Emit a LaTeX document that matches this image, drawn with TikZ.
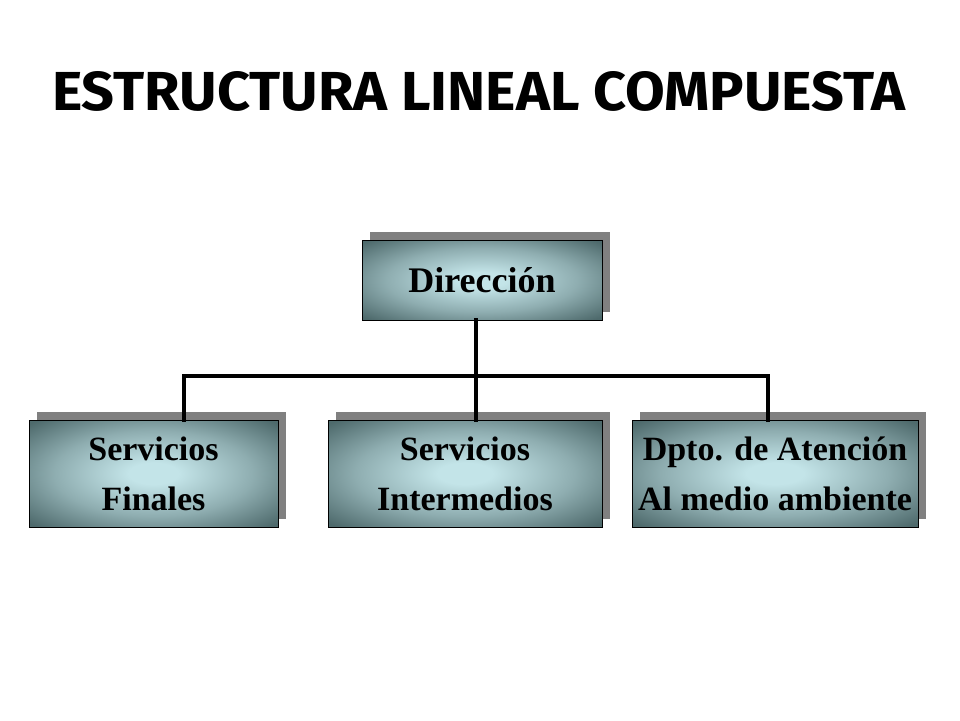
\documentclass[tikz,border=0pt]{standalone}
\usepackage{fontspec}
\setmainfont{Liberation Serif}
\newfontfamily\titlefont{Fira Sans}
\usetikzlibrary{shadows}
\definecolor{boxshadow}{HTML}{808080}
\definecolor{glowin}{HTML}{C3E4E8}
\definecolor{glowout}{HTML}{4E6A6C}
% light centre, dark teal rim
\pgfdeclareradialshading{boxglow}{\pgfpoint{0bp}{0bp}}{color(0bp)=(glowin); color(5bp)=(glowin); color(20bp)=(glowin!55!glowout); color(34bp)=(glowout); color(50bp)=(glowout)}
\tikzset{
  unitbox/.style={draw=black,line width=.8pt,shading=boxglow,inner sep=0pt,
    minimum height=107pt,align=center,font=\fontsize{34}{50}\selectfont\bfseries,
    general shadow={fill=boxshadow,shadow xshift=8pt,shadow yshift=8pt}},
  link/.style={line width=4pt,line cap=rect}
}
\begin{document}
\begin{tikzpicture}[x=1pt,y=-1pt,line join=miter]
		\useasboundingbox (0,0) rectangle (960,720);
		\node[anchor=north west,inner sep=0pt] (title) at (52,71) {\resizebox{853pt}{39pt}{\titlefont\bfseries ESTRUCTURA LINEAL COMPUESTA}};
		\node[unitbox,minimum width=240pt,minimum height=80pt,font=\fontsize{36}{50}\selectfont\bfseries] (dir) at (482,280) {Dirección};
		\node[unitbox,minimum width=249pt] (fin) at (153.5,473.5) {Servicios\\Finales};
		\node[unitbox,minimum width=274pt] (int) at (465,473.5) {Servicios\\Intermedios};
		\node[unitbox,minimum width=286pt] (amb) at (775,473.5) {Dpto. de Atención\\Al medio ambiente};
		\coordinate (busL) at (184,376);
		\coordinate (busM) at (476,376);
		\coordinate (busR) at (768,376);
		\draw[link] (busM |- dir.south)--(busM);
		\draw[link] (busL |- fin.north)--(busL)--(busR)--(busR |- amb.north);
		\draw[link] (busM)--(busM |- int.north);
		\end{tikzpicture}
\end{document}
